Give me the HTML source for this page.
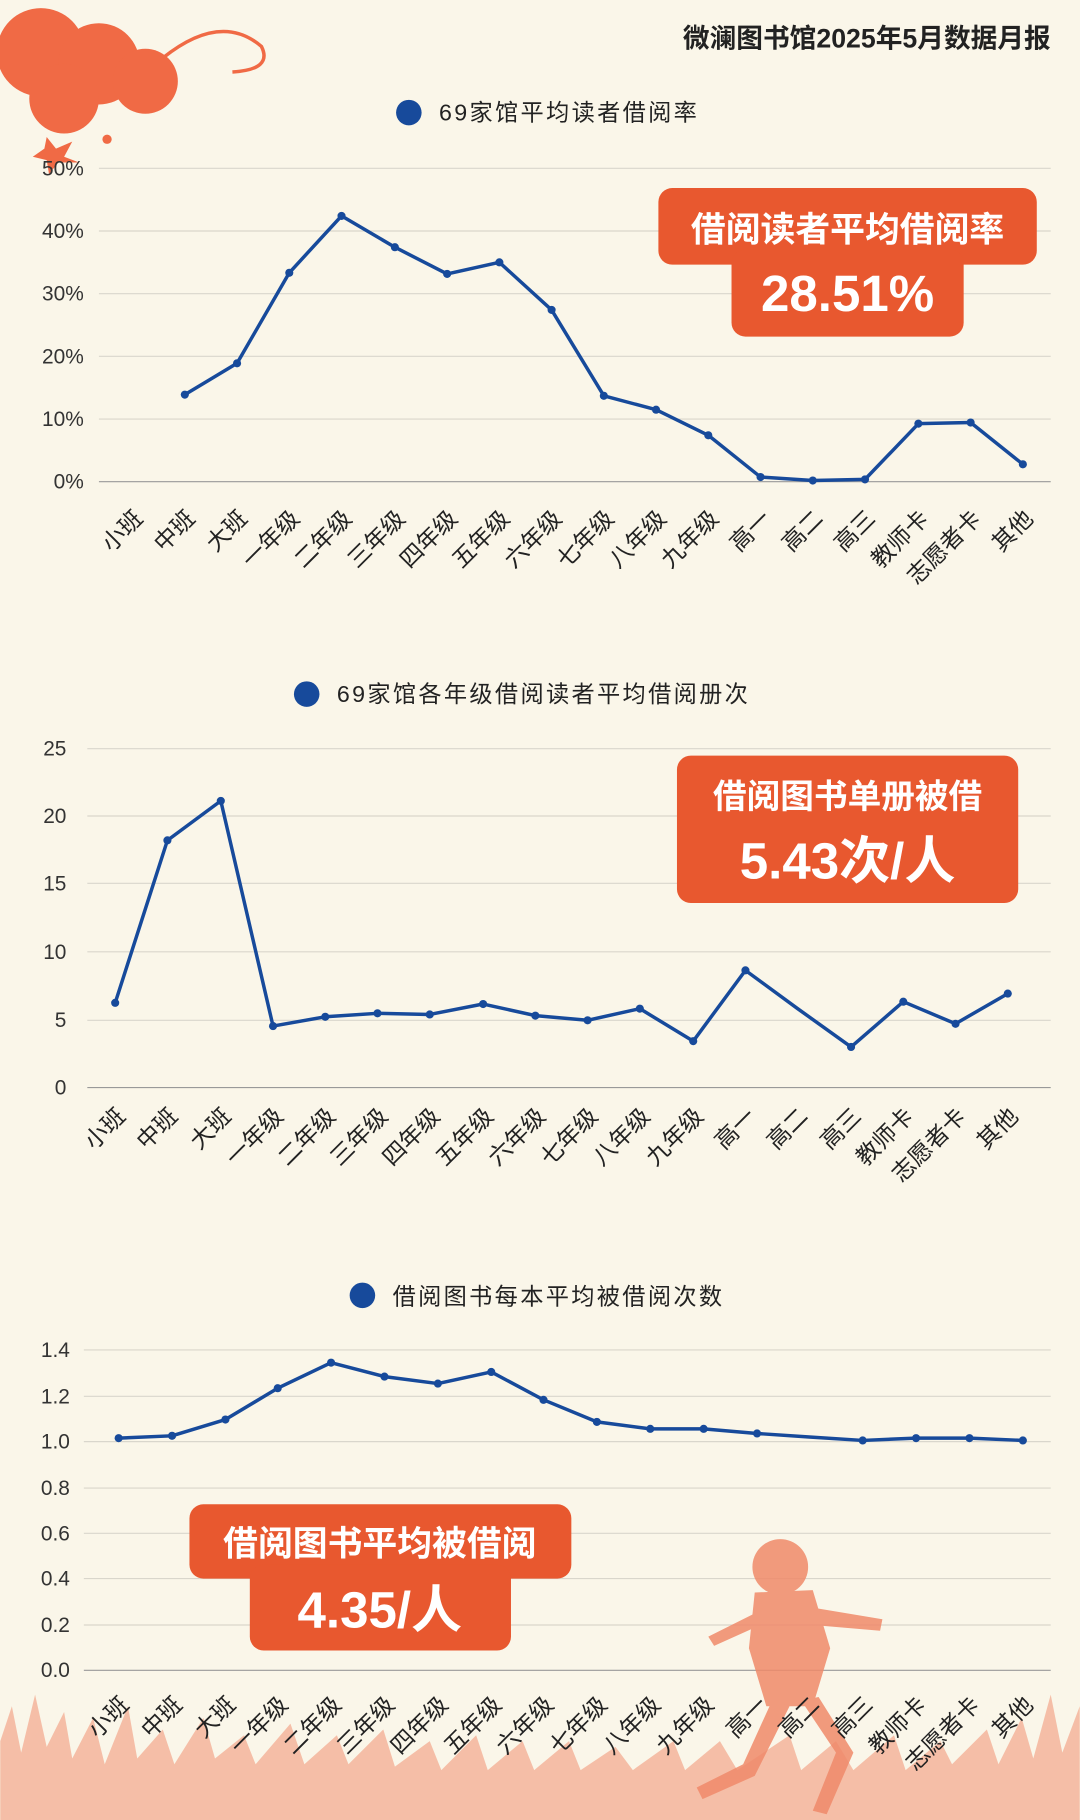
<!DOCTYPE html>
<html><head><meta charset="utf-8"><style>
html,body{margin:0;padding:0;background:#faf6e9;}
svg{display:block;}
text{font-family:"Liberation Sans","Noto Sans CJK SC",sans-serif;}
</style></head><body>
<svg width="1080" height="1820" viewBox="0 0 930 1568" xmlns="http://www.w3.org/2000/svg">
<rect width="930" height="1568" fill="#faf6e9"/>
<g fill="#f06a45">
<circle cx="35" cy="45" r="38"/><circle cx="85" cy="55" r="35"/><circle cx="125" cy="70" r="28"/><circle cx="55" cy="85" r="30"/>
<circle cx="92" cy="120" r="4"/>
<polygon points="40,118 48,128 62,122 55,135 68,140 50,140 42,150 40,138 28,135 38,128"/>
</g>
<path d="M140,50 Q190,10 225,40 Q235,60 200,62" fill="none" stroke="#f06a45" stroke-width="3"/>
<text x="905" y="41" text-anchor="end" font-size="23" font-weight="bold" fill="#222">微澜图书馆2025年5月数据月报</text>

<circle cx="352" cy="97" r="11" fill="#174a9b"/>
<text x="378" y="104" font-size="20" fill="#222" letter-spacing="2">69家馆平均读者借阅率</text>
<g stroke="#d9d6cc" stroke-width="1">
<line x1="85" y1="145" x2="905" y2="145"/><line x1="85" y1="199" x2="905" y2="199"/><line x1="85" y1="253" x2="905" y2="253"/><line x1="85" y1="307" x2="905" y2="307"/><line x1="85" y1="361" x2="905" y2="361"/></g>
<line x1="85" y1="415" x2="905" y2="415" stroke="#999" stroke-width="1"/>
<g font-size="18" fill="#333" text-anchor="end">
<text x="72" y="151">50%</text><text x="72" y="205">40%</text><text x="72" y="259">30%</text><text x="72" y="313">20%</text><text x="72" y="367">10%</text><text x="72" y="421">0%</text></g>
<polyline fill="none" stroke="#174a9b" stroke-width="3" stroke-linejoin="round" points="159,340 204,313 249,235 294,186 340,213 385,236 430,226 475,267 520,341 565,353 610,375 655,411 700,414 745,413 791,365 836,364 881,400"/>
<g fill="#174a9b"><circle cx="159" cy="340" r="3.5"/><circle cx="204" cy="313" r="3.5"/><circle cx="249" cy="235" r="3.5"/><circle cx="294" cy="186" r="3.5"/><circle cx="340" cy="213" r="3.5"/><circle cx="385" cy="236" r="3.5"/><circle cx="430" cy="226" r="3.5"/><circle cx="475" cy="267" r="3.5"/><circle cx="520" cy="341" r="3.5"/><circle cx="565" cy="353" r="3.5"/><circle cx="610" cy="375" r="3.5"/><circle cx="655" cy="411" r="3.5"/><circle cx="700" cy="414" r="3.5"/><circle cx="745" cy="413" r="3.5"/><circle cx="791" cy="365" r="3.5"/><circle cx="836" cy="364" r="3.5"/><circle cx="881" cy="400" r="3.5"/></g>
<g font-size="20" fill="#222" text-anchor="end">
<text transform="translate(124,448) rotate(-45)">小班</text><text transform="translate(169,448) rotate(-45)">中班</text><text transform="translate(214,448) rotate(-45)">大班</text><text transform="translate(259,448) rotate(-45)">一年级</text><text transform="translate(304,448) rotate(-45)">二年级</text><text transform="translate(350,448) rotate(-45)">三年级</text><text transform="translate(395,448) rotate(-45)">四年级</text><text transform="translate(440,448) rotate(-45)">五年级</text><text transform="translate(485,448) rotate(-45)">六年级</text><text transform="translate(530,448) rotate(-45)">七年级</text><text transform="translate(575,448) rotate(-45)">八年级</text><text transform="translate(620,448) rotate(-45)">九年级</text><text transform="translate(665,448) rotate(-45)">高一</text><text transform="translate(710,448) rotate(-45)">高二</text><text transform="translate(755,448) rotate(-45)">高三</text><text transform="translate(801,448) rotate(-45)">教师卡</text><text transform="translate(846,448) rotate(-45)">志愿者卡</text><text transform="translate(891,448) rotate(-45)">其他</text></g>
<rect x="567" y="162" width="326" height="66" rx="12" fill="#e8582f"/>
<rect x="630" y="215" width="200" height="75" rx="12" fill="#e8582f"/>
<text x="730" y="208" text-anchor="middle" font-size="30" font-weight="bold" fill="#fff">借阅读者平均借阅率</text>
<text x="730" y="268" text-anchor="middle" font-size="44" font-weight="bold" fill="#fff">28.51%</text>

<circle cx="264" cy="598" r="11" fill="#174a9b"/>
<text x="290" y="605" font-size="20" fill="#222" letter-spacing="2">69家馆各年级借阅读者平均借阅册次</text>
<g stroke="#d9d6cc" stroke-width="1">
<line x1="75" y1="645" x2="905" y2="645"/><line x1="75" y1="703" x2="905" y2="703"/><line x1="75" y1="761" x2="905" y2="761"/><line x1="75" y1="820" x2="905" y2="820"/><line x1="75" y1="879" x2="905" y2="879"/></g>
<line x1="75" y1="937" x2="905" y2="937" stroke="#999"/>
<g font-size="18" fill="#333" text-anchor="end">
<text x="57" y="651">25</text><text x="57" y="709">20</text><text x="57" y="767">15</text><text x="57" y="826">10</text><text x="57" y="885">5</text><text x="57" y="943">0</text></g>
<polyline fill="none" stroke="#174a9b" stroke-width="3" stroke-linejoin="round" points="99,864 144,724 190,690 235,884 280,876 325,873 370,874 416,865 461,875 506,879 551,869 597,897 642,836 687,869 733,902 778,863 823,882 868,856"/>
<g fill="#174a9b"><circle cx="99" cy="864" r="3.5"/><circle cx="144" cy="724" r="3.5"/><circle cx="190" cy="690" r="3.5"/><circle cx="235" cy="884" r="3.5"/><circle cx="280" cy="876" r="3.5"/><circle cx="325" cy="873" r="3.5"/><circle cx="370" cy="874" r="3.5"/><circle cx="416" cy="865" r="3.5"/><circle cx="461" cy="875" r="3.5"/><circle cx="506" cy="879" r="3.5"/><circle cx="551" cy="869" r="3.5"/><circle cx="597" cy="897" r="3.5"/><circle cx="642" cy="836" r="3.5"/><circle cx="733" cy="902" r="3.5"/><circle cx="778" cy="863" r="3.5"/><circle cx="823" cy="882" r="3.5"/><circle cx="868" cy="856" r="3.5"/></g>
<g font-size="20" fill="#222" text-anchor="end">
<text transform="translate(109,963) rotate(-45)">小班</text><text transform="translate(154,963) rotate(-45)">中班</text><text transform="translate(200,963) rotate(-45)">大班</text><text transform="translate(245,963) rotate(-45)">一年级</text><text transform="translate(290,963) rotate(-45)">二年级</text><text transform="translate(335,963) rotate(-45)">三年级</text><text transform="translate(380,963) rotate(-45)">四年级</text><text transform="translate(426,963) rotate(-45)">五年级</text><text transform="translate(471,963) rotate(-45)">六年级</text><text transform="translate(516,963) rotate(-45)">七年级</text><text transform="translate(561,963) rotate(-45)">八年级</text><text transform="translate(607,963) rotate(-45)">九年级</text><text transform="translate(652,963) rotate(-45)">高一</text><text transform="translate(697,963) rotate(-45)">高二</text><text transform="translate(743,963) rotate(-45)">高三</text><text transform="translate(788,963) rotate(-45)">教师卡</text><text transform="translate(833,963) rotate(-45)">志愿者卡</text><text transform="translate(878,963) rotate(-45)">其他</text></g>
<rect x="583" y="651" width="294" height="127" rx="12" fill="#e8582f"/>
<text x="730" y="696" text-anchor="middle" font-size="29" font-weight="bold" fill="#fff">借阅图书单册被借</text>
<text x="730" y="757" text-anchor="middle" font-size="44" font-weight="bold" fill="#fff">5.43次/人</text>

<circle cx="312" cy="1116" r="11" fill="#174a9b"/>
<text x="338" y="1124" font-size="20" fill="#222" letter-spacing="2">借阅图书每本平均被借阅次数</text>
<g stroke="#d9d6cc" stroke-width="1">
<line x1="72" y1="1163" x2="905" y2="1163"/><line x1="72" y1="1203" x2="905" y2="1203"/><line x1="72" y1="1242" x2="905" y2="1242"/><line x1="72" y1="1282" x2="905" y2="1282"/><line x1="72" y1="1321" x2="905" y2="1321"/><line x1="72" y1="1360" x2="905" y2="1360"/><line x1="72" y1="1400" x2="905" y2="1400"/></g>
<line x1="72" y1="1439" x2="905" y2="1439" stroke="#999"/>
<g font-size="18" fill="#333" text-anchor="end">
<text x="60" y="1169">1.4</text><text x="60" y="1209">1.2</text><text x="60" y="1248">1.0</text><text x="60" y="1288">0.8</text><text x="60" y="1327">0.6</text><text x="60" y="1366">0.4</text><text x="60" y="1406">0.2</text><text x="60" y="1445">0.0</text></g>
<polyline fill="none" stroke="#174a9b" stroke-width="3" stroke-linejoin="round" points="102,1239 148,1237 194,1223 239,1196 285,1174 331,1186 377,1192 423,1182 468,1206 514,1225 560,1231 606,1231 652,1235 697,1238 743,1241 789,1239 835,1239 881,1241"/>
<g fill="#174a9b"><circle cx="102" cy="1239" r="3.5"/><circle cx="148" cy="1237" r="3.5"/><circle cx="194" cy="1223" r="3.5"/><circle cx="239" cy="1196" r="3.5"/><circle cx="285" cy="1174" r="3.5"/><circle cx="331" cy="1186" r="3.5"/><circle cx="377" cy="1192" r="3.5"/><circle cx="423" cy="1182" r="3.5"/><circle cx="468" cy="1206" r="3.5"/><circle cx="514" cy="1225" r="3.5"/><circle cx="560" cy="1231" r="3.5"/><circle cx="606" cy="1231" r="3.5"/><circle cx="652" cy="1235" r="3.5"/><circle cx="743" cy="1241" r="3.5"/><circle cx="789" cy="1239" r="3.5"/><circle cx="835" cy="1239" r="3.5"/><circle cx="881" cy="1241" r="3.5"/></g>

<g fill="#f4b8a0" opacity="0.9">
<polygon points="0,1568 0,1500 10,1470 18,1510 30,1460 40,1505 55,1475 62,1515 80,1480 90,1520 110,1470 118,1515 140,1490 150,1520 175,1480 185,1515 210,1495 220,1520 250,1485 262,1520 290,1495 300,1520 330,1490 340,1522 370,1500 380,1525 410,1495 420,1525 450,1500 460,1525 490,1500 500,1525 530,1505 545,1525 580,1500 590,1525 620,1500 635,1525 680,1495 690,1525 720,1500 735,1525 770,1495 780,1525 810,1500 820,1520 850,1490 860,1520 880,1480 890,1515 905,1460 915,1510 930,1470 930,1568"/>
</g>
<g fill="#f08a6a" opacity="0.85">
<circle cx="672" cy="1350" r="24"/>
<path d="M650,1372 L700,1370 L715,1420 L700,1470 L660,1470 L645,1420 Z"/>
<path d="M700,1385 L760,1395 L758,1405 L700,1400 Z"/>
<path d="M650,1390 L610,1410 L615,1418 L655,1400 Z"/>
<path d="M665,1465 L640,1520 L600,1540 L605,1550 L650,1530 L680,1470 Z"/>
<path d="M690,1465 L720,1510 L700,1560 L712,1563 L735,1510 L705,1462 Z"/>
</g>
<g font-size="20" fill="#222" text-anchor="end">
<text transform="translate(112,1470) rotate(-45)">小班</text><text transform="translate(158,1470) rotate(-45)">中班</text><text transform="translate(204,1470) rotate(-45)">大班</text><text transform="translate(249,1470) rotate(-45)">一年级</text><text transform="translate(295,1470) rotate(-45)">二年级</text><text transform="translate(341,1470) rotate(-45)">三年级</text><text transform="translate(387,1470) rotate(-45)">四年级</text><text transform="translate(433,1470) rotate(-45)">五年级</text><text transform="translate(478,1470) rotate(-45)">六年级</text><text transform="translate(524,1470) rotate(-45)">七年级</text><text transform="translate(570,1470) rotate(-45)">八年级</text><text transform="translate(616,1470) rotate(-45)">九年级</text><text transform="translate(662,1470) rotate(-45)">高一</text><text transform="translate(707,1470) rotate(-45)">高二</text><text transform="translate(753,1470) rotate(-45)">高三</text><text transform="translate(799,1470) rotate(-45)">教师卡</text><text transform="translate(845,1470) rotate(-45)">志愿者卡</text><text transform="translate(891,1470) rotate(-45)">其他</text></g>
<rect x="163" y="1296" width="329" height="64" rx="12" fill="#e8582f"/>
<rect x="215" y="1348" width="225" height="74" rx="12" fill="#e8582f"/>
<text x="327" y="1340" text-anchor="middle" font-size="30" font-weight="bold" fill="#fff">借阅图书平均被借阅</text>
<text x="327" y="1402" text-anchor="middle" font-size="44" font-weight="bold" fill="#fff">4.35/人</text>
</svg>
</body></html>
